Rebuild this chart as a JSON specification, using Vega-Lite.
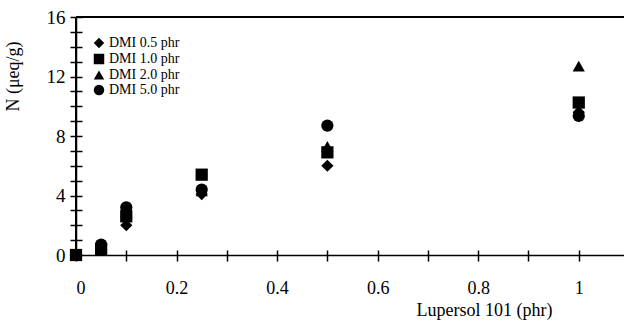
{
  "$schema": "https://vega.github.io/schema/vega-lite/v6.json",
  "autosize": {"type": "none"},
  "width": 548,
  "height": 238,
  "padding": {"left": 76, "top": 17, "right": 0, "bottom": 66},
  "background": "white",
  "config": {
    "font": "Liberation Serif",
    "view": {"stroke": null},
    "axis": {"domainColor": "black", "tickColor": "black", "labelColor": "black", "titleColor": "black", "grid": false, "domainWidth": 1.5, "tickWidth": 1.5}
  },
  "data": {"values": [
    {"x": 0, "n": 0, "s": "DMI 0.5 phr"},
    {"x": 0, "n": 0, "s": "DMI 1.0 phr"},
    {"x": 0, "n": 0, "s": "DMI 2.0 phr"},
    {"x": 0, "n": 0, "s": "DMI 5.0 phr"},
    {"x": 0.05, "n": 0.35, "s": "DMI 0.5 phr"},
    {"x": 0.05, "n": 0.4, "s": "DMI 1.0 phr"},
    {"x": 0.05, "n": 0.5, "s": "DMI 2.0 phr"},
    {"x": 0.05, "n": 0.7, "s": "DMI 5.0 phr"},
    {"x": 0.1, "n": 2.0, "s": "DMI 0.5 phr"},
    {"x": 0.1, "n": 2.6, "s": "DMI 1.0 phr"},
    {"x": 0.1, "n": 2.9, "s": "DMI 2.0 phr"},
    {"x": 0.1, "n": 3.2, "s": "DMI 5.0 phr"},
    {"x": 0.25, "n": 4.1, "s": "DMI 0.5 phr"},
    {"x": 0.25, "n": 5.4, "s": "DMI 1.0 phr"},
    {"x": 0.25, "n": 4.3, "s": "DMI 2.0 phr"},
    {"x": 0.25, "n": 4.4, "s": "DMI 5.0 phr"},
    {"x": 0.5, "n": 6.0, "s": "DMI 0.5 phr"},
    {"x": 0.5, "n": 6.9, "s": "DMI 1.0 phr"},
    {"x": 0.5, "n": 7.3, "s": "DMI 2.0 phr"},
    {"x": 0.5, "n": 8.7, "s": "DMI 5.0 phr"},
    {"x": 1.0, "n": 9.6, "s": "DMI 0.5 phr"},
    {"x": 1.0, "n": 10.25, "s": "DMI 1.0 phr"},
    {"x": 1.0, "n": 12.7, "s": "DMI 2.0 phr"},
    {"x": 1.0, "n": 9.35, "s": "DMI 5.0 phr"}
  ]},
  "resolve": {"axis": {"x": "independent", "y": "independent"}},
  "layer": [
    {
      "mark": {"type": "rule", "color": "black", "strokeWidth": 1.5},
      "encoding": {
        "y": {"datum": 16, "type": "quantitative", "scale": {"domain": [0, 16], "nice": false},
          "axis": {"orient": "left", "values": [0,1,2,3,4,5,6,7,8,9,10,11,12,13,14,15,16], "labels": false, "domain": false, "tickSize": -6, "title": null}}
      }
    },
    {
      "mark": {"type": "rule", "color": "black", "strokeWidth": 1.5},
      "encoding": {
        "x": {"datum": 0, "type": "quantitative", "scale": {"domain": [0, 1.09], "nice": false},
          "axis": {"orient": "bottom", "values": [0.1, 0.2, 0.3, 0.4, 0.5, 0.6, 0.7, 0.8, 0.9, 1.0], "labels": false, "domain": false, "tickSize": -5, "title": null}}
      }
    },
    {
      "mark": {"type": "point", "filled": true, "opacity": 1, "color": "black", "size": 150, "clip": false},
      "encoding": {
        "x": {"field": "x", "type": "quantitative", "scale": {"domain": [0, 1.09], "nice": false},
          "axis": {"orient": "bottom", "values": [0, 0.1, 0.2, 0.3, 0.4, 0.5, 0.6, 0.7, 0.8, 0.9, 1.0], "labelExpr": "abs(datum.value*10 % 2) < 0.01 ? datum.label : ''",
            "title": "Lupersol 101 (phr)", "titleFont": "Liberation Serif", "titleFontSize": 18, "titleFontWeight": "normal", "titleX": 408, "titleY": 46, "titleAnchor": "middle",
            "labelFontSize": 18, "labelPadding": 18, "tickSize": 6, "format": "~g"}},
        "y": {"field": "n", "type": "quantitative", "scale": {"domain": [0, 16], "nice": false},
          "axis": {"orient": "left", "values": [0,1,2,3,4,5,6,7,8,9,10,11,12,13,14,15,16], "labelExpr": "datum.value % 4 == 0 ? datum.label : ''",
            "title": "N (μeq/g)", "titleFontSize": 18, "titleFontWeight": "normal", "titleX": -54, "titleY": 59, "titleAnchor": "middle",
            "labelFontSize": 19, "labelPadding": 5, "tickSize": 6}},
        "shape": {"field": "s", "type": "nominal",
          "scale": {"domain": ["DMI 0.5 phr", "DMI 1.0 phr", "DMI 2.0 phr", "DMI 5.0 phr"], "range": ["diamond", "square", "triangle-up", "circle"]},
          "legend": {"title": null, "orient": "none", "legendX": 16, "legendY": 19, "labelFontSize": 14, "labelFont": "Liberation Serif", "labelColor": "black", "symbolFillColor": "black", "symbolStrokeColor": "black", "symbolSize": 110, "rowPadding": -3, "labelOffset": 3}}
      }
    }
  ]
}
